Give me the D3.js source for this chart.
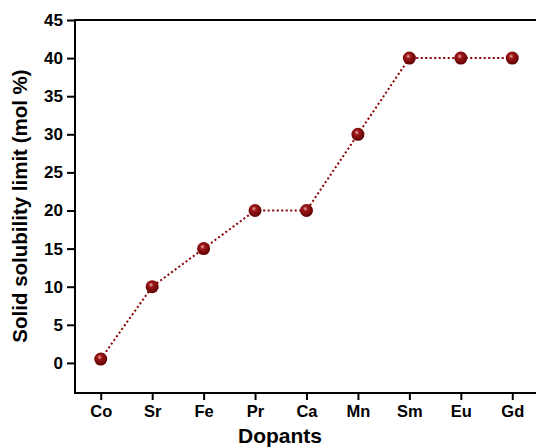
<!DOCTYPE html>
<html>
<head>
<meta charset="utf-8">
<script src="https://cdn.jsdelivr.net/npm/d3@7"></script>
<style>
    body { margin: 0; background: #fff; }
    text { font-family: "Liberation Sans", Arial, sans-serif; font-weight: bold; fill: #000; }
</style>
</head>
<body>
<div id="vis"></div>
<script>
// Data ----------------------------------------------------------------------

const DOPANTS = ["Co", "Sr", "Fe", "Pr", "Ca", "Mn", "Sm", "Eu", "Gd"];
const LIMITS = [0.5, 10, 15, 20, 20, 30, 40, 40, 40];
const Y_TICKS = [0, 5, 10, 15, 20, 25, 30, 35, 40, 45];

// Chart ---------------------------------------------------------------------

const width = 536;
const height = 448;
const plot = {left: 75, right: 538, top: 20, bottom: 393};

const svg = d3.select("#vis")
    .append("svg")
    .attr("width", width)
    .attr("height", height);

// Sphere-ish gradient for the markers
const grad = svg.append("defs")
    .append("radialGradient")
    .attr("id", "ball")
    .attr("cx", "45%").attr("cy", "40%").attr("r", "60%")
    .attr("fx", "40%").attr("fy", "35%");
grad.append("stop").attr("offset", "0%").attr("stop-color", "#e8b0b0");
grad.append("stop").attr("offset", "30%").attr("stop-color", "#a01818");
grad.append("stop").attr("offset", "100%").attr("stop-color", "#5a0000");

const xscale = d3.scalePoint()
    .domain(DOPANTS)
    .range([plot.left, plot.right])
    .padding(0.5);

const yscale = d3.scaleLinear()
    .domain([-3.95, 45])
    .range([plot.bottom, plot.top]);

// Frame (right side falls just outside the picture)
svg.append("rect")
    .attr("x", plot.left)
    .attr("y", plot.top)
    .attr("width", plot.right - plot.left)
    .attr("height", plot.bottom - plot.top)
    .attr("fill", "none")
    .attr("stroke", "#000")
    .attr("stroke-width", 2);

const xaxis = d3.axisBottom(xscale).tickSize(7).tickPadding(5);
const gx = svg.append("g")
    .attr("transform", `translate(0,${plot.bottom})`)
    .call(xaxis);
gx.select(".domain").remove();
gx.selectAll("line").attr("stroke-width", 2);
gx.selectAll("text").style("font-size", "16.5px");

const yaxis = d3.axisLeft(yscale).tickValues(Y_TICKS).tickSize(8).tickPadding(4);
const gy = svg.append("g")
    .attr("transform", `translate(${plot.left},0)`)
    .call(yaxis);
gy.select(".domain").remove();
gy.selectAll("line").attr("stroke-width", 2);
gy.selectAll("text").style("font-size", "17px");

// Axis titles
svg.append("text")
    .attr("x", 280)
    .attr("y", 443)
    .attr("text-anchor", "middle")
    .style("font-size", "21px")
    .text("Dopants");

svg.append("text")
    .attr("transform", `translate(27,206) rotate(-90)`)
    .attr("text-anchor", "middle")
    .style("font-size", "20.5px")
    .text("Solid solubility limit (mol %)");

// Dotted line
const line = d3.line()
    .x((d, i) => xscale(DOPANTS[i]))
    .y(d => yscale(d));

svg.append("path")
    .datum(LIMITS)
    .attr("d", line)
    .attr("fill", "none")
    .attr("stroke", "#8b0000")
    .attr("stroke-width", 2)
    .attr("stroke-dasharray", "2,2.5");

// Markers
svg.selectAll(".dot")
    .data(LIMITS)
    .enter()
    .append("circle")
    .attr("class", "dot")
    .attr("cx", (d, i) => xscale(DOPANTS[i]))
    .attr("cy", d => yscale(d))
    .attr("r", 6.5)
    .attr("fill", "url(#ball)");
</script>
</body>
</html>
